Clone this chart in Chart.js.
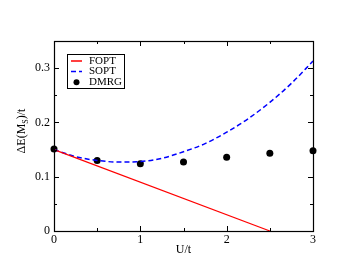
<!DOCTYPE html>
<html>
<head>
<meta charset="utf-8">
<script src="https://cdn.jsdelivr.net/npm/chart.js@4.4.0/dist/chart.umd.min.js"></script>
<style>
  html, body { margin: 0; padding: 0; background: #fff; }
  canvas { display: block; }
</style>
</head>
<body>
<canvas id="gapChart" width="352" height="272"></canvas>
<script>
// values
const foptU = [0, 2.5];
const foptE = [0.15, 0.0];

const soptU = [0, 0.25, 0.5, 0.75, 1.0, 1.25, 1.5, 1.75, 2.0, 2.25, 2.5, 2.75, 3.0];
const soptE = [0.150, 0.137, 0.130, 0.127, 0.128, 0.134, 0.146, 0.161, 0.182, 0.207, 0.237, 0.272, 0.313];

const dmrgU = [0, 0.5, 1.0, 1.5, 2.0, 2.5, 3.0];
const dmrgE = [0.151, 0.130, 0.124, 0.127, 0.136, 0.143, 0.148];

const xMajor = [0, 1, 2, 3];
const xMinor = [0.5, 1.5, 2.5];
const yMajor = [0, 0.1, 0.2, 0.3];
const yMinor = [0.05, 0.15, 0.25];

const FONT = '"Liberation Serif", "DejaVu Serif", serif';

function toPoints(xs, ys) {
    return xs.map((x, i) => ({ x: x, y: ys[i] }));
}

// frame, inward ticks, axis titles and legend box
const framePlugin = {
    id: 'frame',
    afterDraw(chart) {
        const { ctx, chartArea: a, scales } = chart;
        const xs = scales.x, ys = scales.y;
        ctx.save();
        ctx.strokeStyle = '#000';
        ctx.lineWidth = 1;

        ctx.beginPath();
        xMajor.concat(xMinor).forEach(v => {
            const px = Math.round(xs.getPixelForValue(v)) + 0.5;
            const len = xMajor.includes(v) ? 5 : 3;
            ctx.moveTo(px, a.bottom); ctx.lineTo(px, a.bottom - len);
            ctx.moveTo(px, a.top); ctx.lineTo(px, a.top + len);
        });
        yMajor.concat(yMinor).forEach(v => {
            const py = Math.round(ys.getPixelForValue(v)) + 0.5;
            const len = yMajor.includes(v) ? 5 : 3;
            ctx.moveTo(a.left, py); ctx.lineTo(a.left + len, py);
            ctx.moveTo(a.right, py); ctx.lineTo(a.right - len, py);
        });
        ctx.stroke();

        ctx.lineWidth = 1.2;
        ctx.strokeRect(Math.round(a.left) + 0.5, Math.round(a.top) + 0.5,
            Math.round(a.right - a.left), Math.round(a.bottom - a.top));

        // axis titles
        ctx.fillStyle = '#000';
        ctx.font = '12px ' + FONT;
        ctx.textAlign = 'center';
        ctx.textBaseline = 'middle';
        ctx.fillText('U/t', (a.left + a.right) / 2, 250);

        ctx.save();
        ctx.translate(22, 131);
        ctx.rotate(-Math.PI / 2);
        const p1 = '\u0394E(M', p2 = ')/t';
        ctx.font = '12px ' + FONT;
        const w1 = ctx.measureText(p1).width, w3 = ctx.measureText(p2).width;
        ctx.font = '8px ' + FONT;
        const w2 = ctx.measureText('S').width;
        let x0 = -(w1 + w2 + w3) / 2;
        ctx.textAlign = 'left';
        ctx.font = '12px ' + FONT;
        ctx.fillText(p1, x0, 0);
        ctx.font = '8px ' + FONT;
        ctx.fillText('S', x0 + w1, 4);
        ctx.font = '12px ' + FONT;
        ctx.fillText(p2, x0 + w1 + w2, 0);
        ctx.restore();

        // legend
        const lx = 67.5, ly = 54.5, lw = 57, lh = 34;
        ctx.fillStyle = '#fff';
        ctx.fillRect(lx, ly, lw, lh);
        ctx.strokeStyle = '#000';
        ctx.lineWidth = 1;
        ctx.strokeRect(lx, ly, lw, lh);
        ctx.font = '11px ' + FONT;
        ctx.textAlign = 'left';
        ctx.textBaseline = 'middle';
        chart.data.datasets.forEach((ds, i) => {
            const yy = 61 + i * 10.6;
            ctx.strokeStyle = ds.borderColor;
            ctx.lineWidth = 1.5;
            if (ds.showLine === false) {
                ctx.fillStyle = ds.backgroundColor;
                ctx.beginPath();
                ctx.arc(76.5, yy, 3, 0, Math.PI * 2);
                ctx.fill();
            } else {
                ctx.setLineDash(ds.borderDash || []);
                ctx.beginPath();
                ctx.moveTo(71, yy); ctx.lineTo(82, yy);
                ctx.stroke();
                ctx.setLineDash([]);
            }
            ctx.fillStyle = '#000';
            ctx.fillText(ds.label, 89, yy);
        });
        ctx.restore();
    }
};

new Chart(document.getElementById('gapChart'), {
    type: 'scatter',
    data: {
        datasets: [
            {
                label: 'FOPT',
                data: toPoints(foptU, foptE),
                showLine: true,
                borderColor: '#ff0000',
                borderWidth: 1.3,
                pointRadius: 0
            },
            {
                label: 'SOPT',
                data: toPoints(soptU, soptE),
                showLine: true,
                borderColor: '#0000ff',
                borderWidth: 1.5,
                borderDash: [5, 3],
                cubicInterpolationMode: 'monotone',
                pointRadius: 0
            },
            {
                label: 'DMRG',
                data: toPoints(dmrgU, dmrgE),
                showLine: false,
                borderColor: '#000',
                backgroundColor: '#000',
                pointRadius: 3.5,
                pointBorderWidth: 0
            }
        ]
    },
    options: {
        responsive: false,
        animation: false,
        clip: false,
        layout: { padding: { top: 41, right: 39, left: 0, bottom: 0 } },
        plugins: {
            legend: { display: false },
            tooltip: { enabled: false }
        },
        scales: {
            x: {
                type: 'linear',
                min: 0,
                max: 3,
                grid: { display: false, drawTicks: false },
                border: { display: false },
                ticks: {
                    stepSize: 1,
                    padding: 2,
                    color: '#000',
                    font: { family: FONT, size: 12 }
                },
                afterFit: s => { s.height = 41; }
            },
            y: {
                type: 'linear',
                min: 0,
                max: 0.35,
                grid: { display: false, drawTicks: false },
                border: { display: false },
                ticks: {
                    stepSize: 0.1,
                    includeBounds: false,
                    padding: 4,
                    color: '#000',
                    font: { family: FONT, size: 12 },
                    callback: v => v === 0 ? '0' : v.toFixed(1)
                },
                afterFit: s => { s.width = 54; }
            }
        }
    },
    plugins: [framePlugin]
});
</script>
</body>
</html>
